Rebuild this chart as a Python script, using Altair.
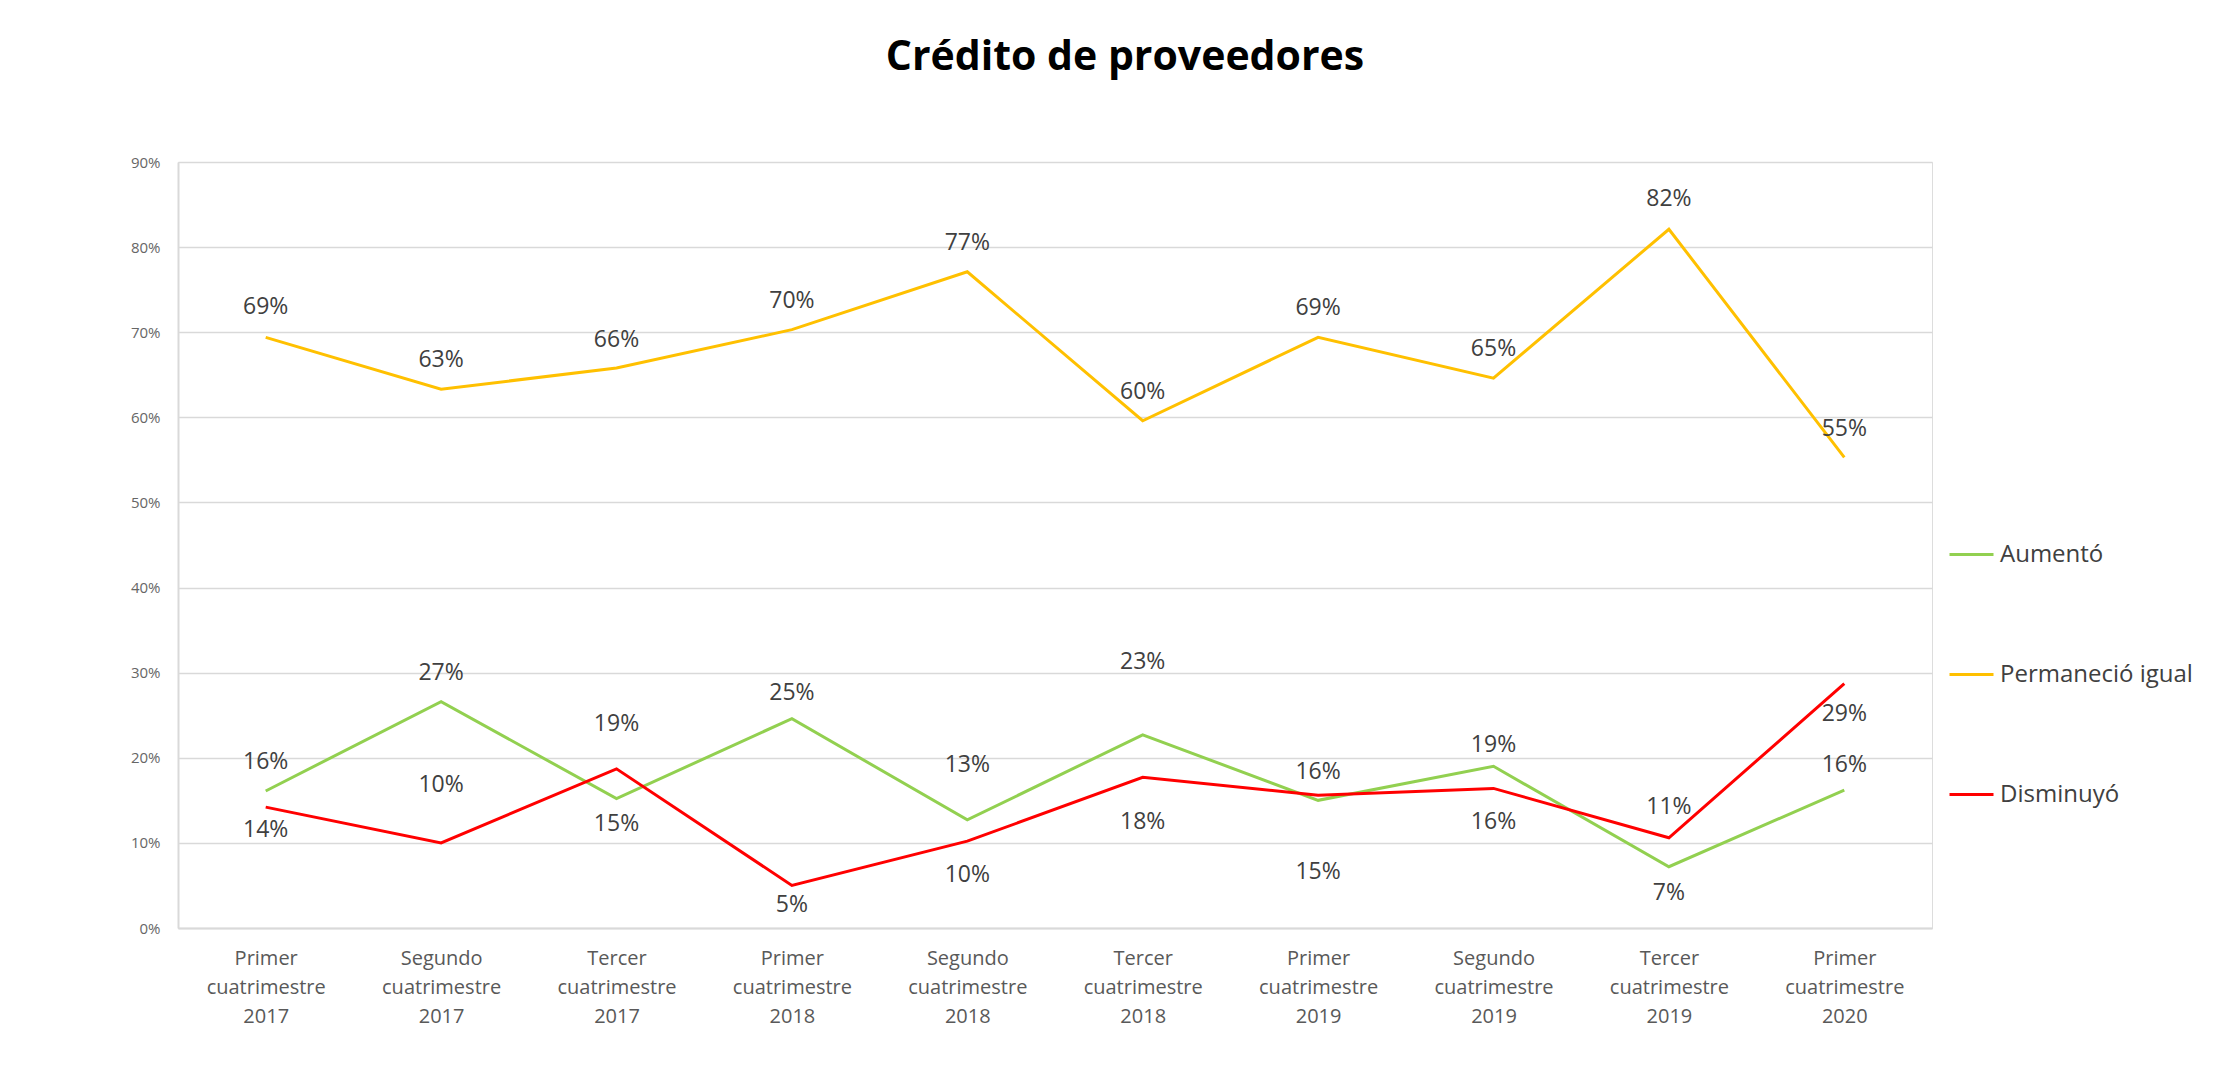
import altair as alt
import pandas as pd

# ---- data ----
categories = [
    "Primer cuatrimestre 2017", "Segundo cuatrimestre 2017", "Tercer cuatrimestre 2017",
    "Primer cuatrimestre 2018", "Segundo cuatrimestre 2018", "Tercer cuatrimestre 2018",
    "Primer cuatrimestre 2019", "Segundo cuatrimestre 2019", "Tercer cuatrimestre 2019",
    "Primer cuatrimestre 2020",
]
series_names = ["Aumentó", "Permaneció igual", "Disminuyó"]
aumento = [0.161, 0.266, 0.152, 0.246, 0.127, 0.227, 0.150, 0.190, 0.072, 0.162]
permanecio = [0.694, 0.633, 0.658, 0.703, 0.771, 0.596, 0.694, 0.646, 0.821, 0.553]
disminuyo = [0.142, 0.100, 0.187, 0.050, 0.102, 0.177, 0.156, 0.164, 0.106, 0.287]

# ---- styling ----
colors = ["#92D050", "#FFC000", "#FF0000"]
# pixel offsets of each data label from its point (Excel labels were hand-placed)
label_dy = {
    "Aumentó": [-29, -29, 25, -26, -55, -73, 72, -21, 26, -25],
    "Permaneció igual": [-30, -29, -28, -29, -29, -29, -29, -29, -30, -28],
    "Disminuyó": [23, -58, -45, 20, 34, 45, -23, 34, -31, 30],
}

values = {"Aumentó": aumento, "Permaneció igual": permanecio, "Disminuyó": disminuyo}
rows = []
for s in series_names:
    for i, c in enumerate(categories):
        rows.append({"serie": s, "cat": c, "idx": i, "v": values[s][i], "dy": label_dy[s][i]})
df = pd.DataFrame(rows)

W, H = 1754, 766
Y_MAX = 0.9
FONT = "Open Sans"

x_enc = alt.X(
    "cat:N", sort=categories,
    scale=alt.Scale(type="point", padding=0.5),
    axis=alt.Axis(
        title=None, labelExpr="split(datum.label, ' ')", labelAngle=0,
        labelFontSize=20, labelFont=FONT, labelColor="#595959",
        labelLineHeight=29, labelPadding=20, ticks=False, grid=False,
        domainColor="#d9d9d9", domainWidth=2,
    ),
)
y_scale = alt.Scale(domain=[0, Y_MAX], nice=False, zero=True)
y_enc = alt.Y(
    "v:Q", scale=y_scale,
    axis=alt.Axis(
        title=None, values=[i / 10 for i in range(10)], format=".0%",
        labelFontSize=15, labelFont=FONT, labelColor="#666666",
        ticks=False, labelPadding=18, gridColor="#d9d9d9", gridWidth=1.5,
        domainColor="#d9d9d9", domainWidth=2,
    ),
)
color_enc = alt.Color(
    "serie:N",
    scale=alt.Scale(domain=series_names, range=colors),
    legend=alt.Legend(
        title=None, orient="none", legendX=1770, legendY=369,
        symbolType="stroke", symbolSize=1936, symbolStrokeWidth=3,
        labelFontSize=24, labelFont=FONT, labelColor="#404040",
        rowPadding=84, labelOffset=5, labelLimit=0,
    ),
)

lines = alt.Chart(df).mark_line(strokeWidth=3).encode(
    x=x_enc, y=y_enc, color=color_enc, order=alt.Order("idx:Q"),
)

labels = alt.Chart(df).transform_calculate(
    ly=f"datum.v - datum.dy * {Y_MAX / H}"
).mark_text(
    font=FONT, fontSize=23, color="#404040", baseline="middle", align="center",
).encode(
    x=alt.X("cat:N", sort=categories),
    y=alt.Y("ly:Q", scale=y_scale),
    text=alt.Text("v:Q", format=".0%"),
)

chart = alt.layer(lines, labels).properties(
    width=W, height=H,
    title=alt.TitleParams(
        "Crédito de proveedores", fontSize=41, font=FONT, fontWeight="bold",
        color="#000000", offset=76, dx=70, anchor="middle",
    ),
    autosize=alt.AutoSizeParams(type="none"),
    padding={"left": 170, "top": 154, "right": 270, "bottom": 130},
).configure_view(stroke=None).configure(background="white")

chart.save("out.html", embed_options={"renderer": "svg", "actions": False})
